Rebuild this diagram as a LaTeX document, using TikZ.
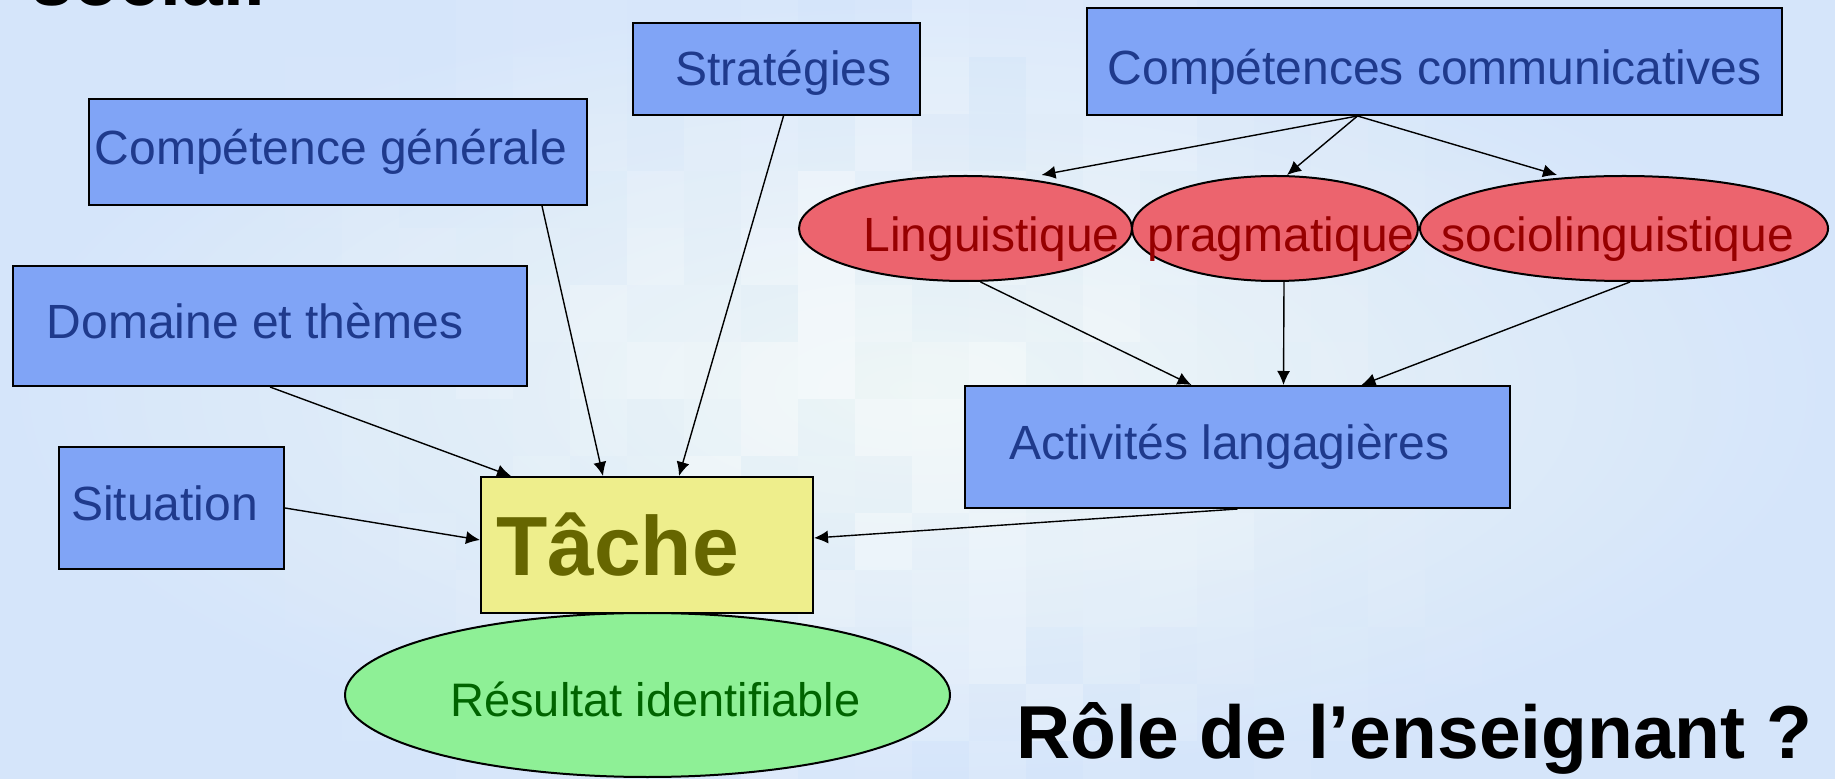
\documentclass[tikz,border=0pt]{standalone}
\usepackage{fontspec}
\setmainfont{Liberation Sans}
\usetikzlibrary{shapes.geometric,arrows.meta,calc}

\definecolor{bgblue}{RGB}{213,229,250}
\definecolor{bglight}{RGB}{236,245,246}
\definecolor{boxblue}{RGB}{128,164,246}
\definecolor{boxtext}{RGB}{31,58,140}
\definecolor{ellred}{RGB}{236,100,110}
\definecolor{redtext}{RGB}{150,0,0}
\definecolor{resgreen}{RGB}{142,240,150}
\definecolor{greentext}{RGB}{0,100,0}
\definecolor{tacheyellow}{RGB}{238,238,140}
\definecolor{tachetext}{RGB}{102,102,0}

\begin{document}
\begin{tikzpicture}[x=0.5pt,y=-0.5pt,
  bluebox/.style={draw=black, line width=1pt, fill=boxblue, text=boxtext, font=\fontsize{24}{28}\selectfont,
    text height=18pt, text depth=5pt},
  redell/.style={ellipse, draw=black, line width=1pt, fill=ellred, text=redtext, font=\fontsize{24}{28}\selectfont,
    inner xsep=-90pt, inner ysep=-12pt, minimum height=52.5pt, text height=28pt, text depth=5pt},
  nudge/.style={execute at begin node={\hspace*{#1}}},
  link/.style={-{Latex[length=7pt,width=6.5pt]}, line width=0.7pt},
  bigtitle/.style={font=\bfseries\fontsize{37.5}{44}\selectfont, anchor=base west, inner sep=0pt}]

\useasboundingbox (0,0) rectangle (1835,779);
\shade[inner color=bglight, outer color=bgblue] (0,0) rectangle (1835,779);

% fond en mosaique
\pgfmathsetseed{11}
\foreach \i in {5,...,25}{
  \foreach \j in {0,...,13}{
    \pgfmathsetmacro{\op}{0.5*rnd*exp(-((\i-15)^2)/45-((\j-6)^2)/60)}
    \fill[white, opacity=\op] (\i*57,\j*57) rectangle ++(57,57);
  }
}

\node[bigtitle] (social) at (31,6) {social.};

\node[bluebox, minimum width=143.5pt, minimum height=46pt, text height=21.4pt, nudge=7pt] (strat) at (776.5,69) {Stratégies};
\node[bluebox, minimum width=347.5pt, minimum height=53.5pt, text height=27.8pt] (comm) at (1434.5,61.5) {Compétences communicatives};
\node[bluebox, minimum width=249pt, minimum height=53pt, nudge=-7pt] (gen) at (338,152) {Compétence générale};
\node[bluebox, minimum width=257pt, minimum height=60pt, nudge=-15pt] (dom) at (270,326) {Domaine et thèmes};
\node[bluebox, minimum width=112.5pt, minimum height=61pt, nudge=-7pt] (sit) at (171.5,508) {Situation};
\node[bluebox, minimum width=272.5pt, minimum height=61pt, nudge=-8pt] (act) at (1237.5,447) {Activités langagières};

\node[redell, minimum width=166.5pt, nudge=26pt] (ling) at (965.5,228.5) {Linguistique};
\node[redell, minimum width=143pt, nudge=6pt] (prag) at (1275,228.5) {pragmatique};
\node[redell, minimum width=204pt, nudge=-6pt] (soc) at (1624,228.5) {sociolinguistique};

\node[ellipse, draw=black, line width=1pt, fill=resgreen, text=greentext, font=\fontsize{23.5}{28}\selectfont,
  inner xsep=-90pt, inner ysep=-10pt, minimum width=302.5pt, minimum height=82pt, text height=26.3pt, text depth=4.9pt, nudge=8pt] (res) at (647.5,695) {Résultat identifiable};
\node[draw=black, line width=1pt, fill=tacheyellow, text=tachetext, font=\bfseries\fontsize{42}{48}\selectfont,
  text width=151pt, inner xsep=7.5pt, minimum height=68pt, align=left] (tache) at (647,545) {Tâche};

\node[bigtitle] (role) at (1016,758) {Rôle de l’enseignant ?};

% vers la tache
\draw[link] ($(gen.south)+(204,0)$) -- ($(tache.north)+(-44,0)$);
\draw[link] ($(strat.south)+(7,0)$) -- ($(tache.north)+(32,0)$);
\draw[link] (dom.south) -- ($(tache.north)+(-136,0)$);
\draw[link] (sit.east) -- ($(tache.west)+(0,-5)$);
\draw[link] (act.south) -- ($(tache.east)+(0,-7)$);

% competences
\coordinate (hub) at ($(comm.south)+(-77,0)$);
\draw[link] (hub) -- ($(ling.north)+(76,0)$);
\draw[link] (hub) -- ($(prag.north)+(12,0)$);
\draw[link] (hub) -- ($(soc.north)+(-67,0)$);

\draw[link] ($(ling.south)+(15,0)$) -- ($(act.north)+(-46,0)$);
\draw[link] ($(prag.south)+(9,0)$) -- ($(act.north)+(46,0)$);
\draw[link] ($(soc.south)+(6,0)$) -- ($(act.north)+(124,0)$);

\end{tikzpicture}
\end{document}
